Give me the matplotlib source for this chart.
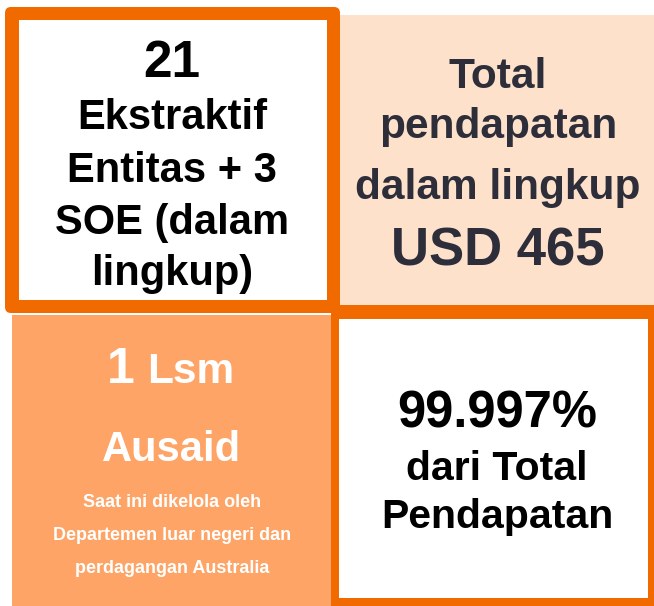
import matplotlib.pyplot as plt
from matplotlib.patches import Rectangle, FancyBboxPatch

# Colours
C_ORANGE = "#F06A00"
C_LIGHT = "#FDA466"
C_PEACH = "#FDE1CB"
C_DARK = "#2D2E3A"

# Text content of the four tiles
tl_number = "21"
tl_lines = ["Ekstraktif", "Entitas + 3", "SOE (dalam", "lingkup)"]
tr_lines = ["Total", "pendapatan", "dalam lingkup"]
tr_amount = "USD 465"
bl_count = "1"
bl_unit = "Lsm"
bl_title = "Ausaid"
bl_notes = ["Saat ini dikelola oleh", "Departemen luar negeri dan",
            "perdagangan Australia"]
br_pct = "99.997%"
br_lines = ["dari Total", "Pendapatan"]

FONT = "Liberation Sans"

fig = plt.figure(figsize=(6.54, 6.06), dpi=100, facecolor="white")
ax = fig.add_axes([0, 0, 1, 1])
ax.set_xlim(0, 654)
ax.set_ylim(606, 0)
ax.axis("off")

# ---- tiles (pixel coordinates, y downwards) ----
ax.add_patch(Rectangle((340, 15), 320, 291, facecolor=C_PEACH, edgecolor="none"))
ax.add_patch(Rectangle((12, 315), 320, 300, facecolor=C_LIGHT, edgecolor="none"))

# top-left: orange frame with white inside
ax.add_patch(FancyBboxPatch((5, 7), 335, 306, boxstyle="round,pad=0,rounding_size=6",
                            facecolor=C_ORANGE, edgecolor="none"))
ax.add_patch(Rectangle((19, 20), 308, 280, facecolor="white", edgecolor="none"))

# bottom-right: orange frame with white inside
ax.add_patch(Rectangle((331, 305), 330, 310, facecolor=C_ORANGE, edgecolor="none"))
ax.add_patch(Rectangle((339, 319), 309, 279, facecolor="white", edgecolor="none"))


def txt(x, y, s, size, color, ha="center"):
    ax.text(x, y, s, fontsize=size, color=color, ha=ha, va="baseline",
            family=FONT, fontweight="bold")


# top-left tile
txt(172, 77, tl_number, 37, "black")
for s, y in zip(tl_lines, [129, 182, 234, 285]):
    txt(172, y, s, 30, "black")

# top-right tile
for s, y in zip(tr_lines, [88, 138, 199]):
    txt(498, y, s, 30.5, C_DARK)
txt(498, 265, tr_amount, 38, C_DARK)

# bottom-left tile
txt(121, 383, bl_count, 36, "white")
txt(147, 383, bl_unit, 30.5, "white", ha="left")
txt(172, 461, bl_title, 30, "white")
for s, y in zip(bl_notes, [507, 540, 573]):
    txt(172, y, s, 13, "white")

# bottom-right tile
txt(497, 427, br_pct, 36.5, "black")
for s, y in zip(br_lines, [480, 528]):
    txt(497, y, s, 29.5, "black")

fig.savefig("out.png", dpi=100, facecolor="white")
